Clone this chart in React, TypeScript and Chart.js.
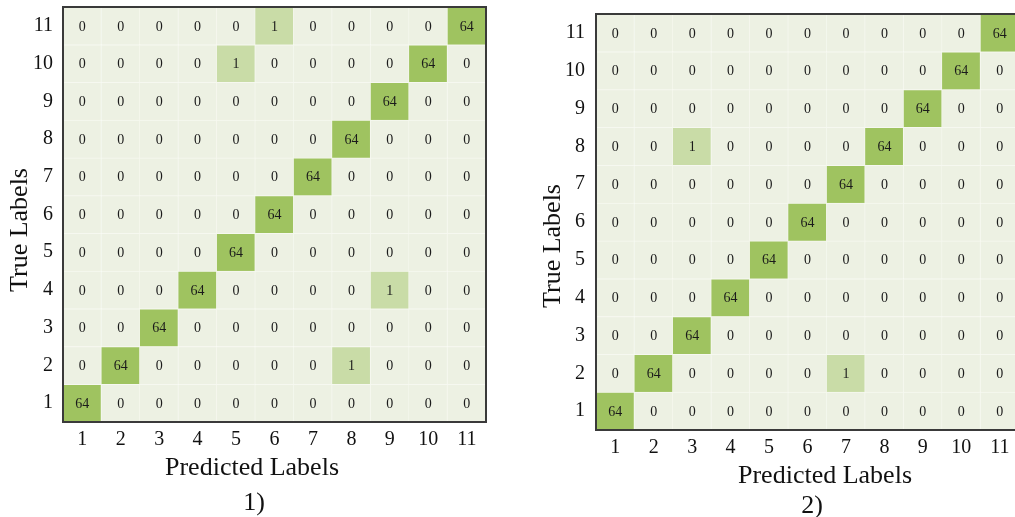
import { useEffect, useRef } from 'react';
import { Chart, registerables } from 'chart.js';

Chart.register(...registerables);

const classLabels = ['1', '2', '3', '4', '5', '6', '7', '8', '9', '10', '11'];

// Rows: true label 1..11, columns: predicted label 1..11
const matrixOne: number[][] = [
  [64, 0, 0, 0, 0, 0, 0, 0, 0, 0, 0],
  [0, 64, 0, 0, 0, 0, 0, 1, 0, 0, 0],
  [0, 0, 64, 0, 0, 0, 0, 0, 0, 0, 0],
  [0, 0, 0, 64, 0, 0, 0, 0, 1, 0, 0],
  [0, 0, 0, 0, 64, 0, 0, 0, 0, 0, 0],
  [0, 0, 0, 0, 0, 64, 0, 0, 0, 0, 0],
  [0, 0, 0, 0, 0, 0, 64, 0, 0, 0, 0],
  [0, 0, 0, 0, 0, 0, 0, 64, 0, 0, 0],
  [0, 0, 0, 0, 0, 0, 0, 0, 64, 0, 0],
  [0, 0, 0, 0, 1, 0, 0, 0, 0, 64, 0],
  [0, 0, 0, 0, 0, 1, 0, 0, 0, 0, 64],
];

const matrixTwo: number[][] = [
  [64, 0, 0, 0, 0, 0, 0, 0, 0, 0, 0],
  [0, 64, 0, 0, 0, 0, 1, 0, 0, 0, 0],
  [0, 0, 64, 0, 0, 0, 0, 0, 0, 0, 0],
  [0, 0, 0, 64, 0, 0, 0, 0, 0, 0, 0],
  [0, 0, 0, 0, 64, 0, 0, 0, 0, 0, 0],
  [0, 0, 0, 0, 0, 64, 0, 0, 0, 0, 0],
  [0, 0, 0, 0, 0, 0, 64, 0, 0, 0, 0],
  [0, 0, 1, 0, 0, 0, 0, 64, 0, 0, 0],
  [0, 0, 0, 0, 0, 0, 0, 0, 64, 0, 0],
  [0, 0, 0, 0, 0, 0, 0, 0, 0, 64, 0],
  [0, 0, 0, 0, 0, 0, 0, 0, 0, 0, 64],
];

const xTitle = 'Predicted Labels';
const yTitle = 'True Labels';

const SERIF = '"Liberation Serif", "Times New Roman", serif';

function cellColor(v: number): string {
  if (v >= 32) return '#9FC360';
  if (v > 0) return '#C9DCA7';
  return '#EDF1E3';
}

type Layout = {
  left: number;
  width: number;
  height: number;
  padTop: number;
  padRight: number;
  yAxisWidth: number;
  xAxisHeight: number;
  yTickPad: number;
  xTickPad: number;
  caption: string;
  xTitlePos: [number, number];
  captionPos: [number, number];
  yTitlePos: [number, number];
};

function zeroPadding(scale: any) {
  scale.paddingTop = 0;
  scale.paddingBottom = 0;
  scale.paddingLeft = 0;
  scale.paddingRight = 0;
}

function MatrixChart({ matrix, layout }: { matrix: number[][]; layout: Layout }) {
  const ref = useRef<HTMLCanvasElement | null>(null);

  useEffect(() => {
    if (!ref.current) return;

    const datasets = matrix.map((row, r) => ({
      label: classLabels[r],
      data: row.map(() => 1),
      cellValues: row,
      stack: 'cm',
      backgroundColor: row.map(cellColor),
      borderColor: '#F6F8F0',
      borderWidth: { top: 1, right: 1, left: 0, bottom: 0 },
      borderSkipped: false,
      barPercentage: 1,
      categoryPercentage: 1,
    }));

    const cellText = {
      id: 'cellText',
      afterDatasetsDraw(chart: any) {
        const ctx = chart.ctx;
        ctx.save();
        ctx.font = `14px ${SERIF}`;
        ctx.fillStyle = '#1b1b1b';
        ctx.textAlign = 'center';
        ctx.textBaseline = 'middle';
        chart.data.datasets.forEach((ds: any, i: number) => {
          const meta = chart.getDatasetMeta(i);
          meta.data.forEach((bar: any, j: number) => {
            const p = bar.getProps(['x', 'y', 'base'], true);
            ctx.fillText(String(ds.cellValues[j]), p.x, (p.y + p.base) / 2 + 1);
          });
        });
        ctx.restore();
      },
    };

    const frame = {
      id: 'frame',
      afterDatasetsDraw(chart: any) {
        const { left, right, top, bottom } = chart.chartArea;
        const ctx = chart.ctx;
        ctx.save();
        ctx.strokeStyle = '#3a3a3a';
        ctx.lineWidth = 2;
        ctx.strokeRect(left, top, right - left, bottom - top);
        ctx.restore();
      },
    };

    const captions = {
      id: 'captions',
      afterDraw(chart: any) {
        const ctx = chart.ctx;
        ctx.save();
        ctx.fillStyle = '#111';
        ctx.font = `26px ${SERIF}`;
        ctx.textAlign = 'center';
        ctx.textBaseline = 'middle';
        ctx.fillText(xTitle, layout.xTitlePos[0] - layout.left, layout.xTitlePos[1]);
        ctx.fillText(layout.caption, layout.captionPos[0] - layout.left, layout.captionPos[1]);
        ctx.translate(layout.yTitlePos[0] - layout.left, layout.yTitlePos[1]);
        ctx.rotate(-Math.PI / 2);
        ctx.fillText(yTitle, 0, 0);
        ctx.restore();
      },
    };

    const chart = new Chart(ref.current, {
      type: 'bar',
      data: { labels: classLabels, datasets: datasets as any },
      options: {
        animation: false,
        responsive: false,
        devicePixelRatio: 1,
        events: [],
        layout: {
          autoPadding: false,
          padding: { left: 0, top: layout.padTop, right: layout.padRight, bottom: 0 },
        } as any,
        plugins: {
          legend: { display: false },
          tooltip: { enabled: false },
        },
        scales: {
          x: {
            type: 'category',
            stacked: true,
            offset: true,
            grid: { display: false, drawTicks: false, tickLength: 0 },
            border: { display: false },
            ticks: {
              font: { family: SERIF, size: 20 },
              color: '#111',
              padding: layout.xTickPad,
              maxRotation: 0,
              autoSkip: false,
            },
            afterFit: (scale: any) => {
              scale.height = layout.xAxisHeight;
              zeroPadding(scale);
            },
          },
          y: {
            type: 'linear',
            stacked: true,
            min: 0,
            max: 11,
            grid: { display: false, drawTicks: false, tickLength: 0 },
            border: { display: false },
            afterBuildTicks: (axis: any) => {
              axis.ticks = classLabels.map((_, i) => ({ value: i + 0.5 }));
            },
            ticks: {
              font: { family: SERIF, size: 20 },
              color: '#111',
              padding: layout.yTickPad,
              autoSkip: false,
              callback: (_v: any, i: number) => classLabels[i],
            },
            afterFit: (scale: any) => {
              scale.width = layout.yAxisWidth;
              zeroPadding(scale);
            },
          },
        },
      },
      plugins: [cellText, frame, captions],
    });

    return () => chart.destroy();
  }, [matrix, layout]);

  return (
    <canvas
      ref={ref}
      width={layout.width}
      height={layout.height}
      style={{ position: 'absolute', left: layout.left, top: 0, width: layout.width, height: layout.height, display: 'block' }}
    />
  );
}

const layoutOne: Layout = {
  left: 0,
  width: 500,
  height: 517,
  padTop: 7,
  padRight: 14,
  yAxisWidth: 63,
  xAxisHeight: 95,
  yTickPad: 10,
  xTickPad: 6,
  caption: '1)',
  xTitlePos: [252, 468],
  captionPos: [254, 503],
  yTitlePos: [20, 230],
};

const layoutTwo: Layout = {
  left: 520,
  width: 520,
  height: 517,
  padTop: 14,
  padRight: 21,
  yAxisWidth: 76,
  xAxisHeight: 87,
  yTickPad: 11,
  xTickPad: 6,
  caption: '2)',
  xTitlePos: [825, 476],
  captionPos: [812, 506],
  yTitlePos: [553, 246],
};

export default function App() {
  return (
    <div
      style={{
        position: 'absolute',
        left: 0,
        top: 0,
        width: 1015,
        height: 517,
        overflow: 'hidden',
        background: '#ffffff',
      }}
    >
      <MatrixChart matrix={matrixOne} layout={layoutOne} />
      <MatrixChart matrix={matrixTwo} layout={layoutTwo} />
    </div>
  );
}
